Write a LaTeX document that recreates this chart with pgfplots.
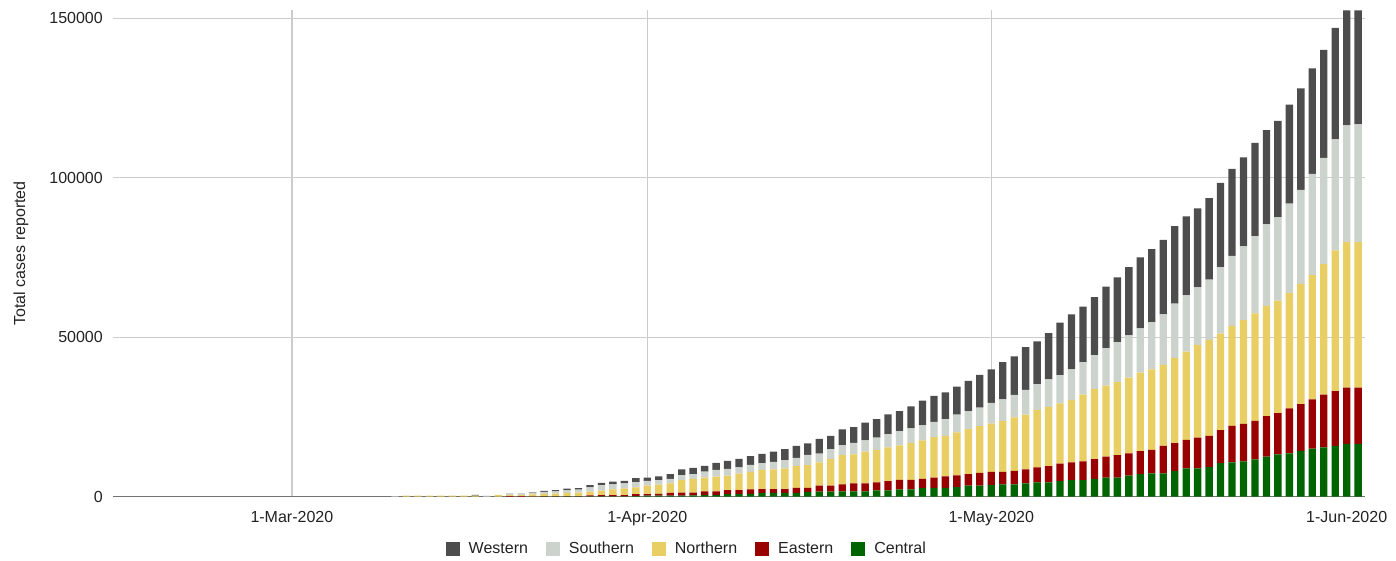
\documentclass[border=0pt]{standalone}
\usepackage{fontspec}
\setmainfont{Liberation Sans}
\usepackage{pgfplots}
\usepackage{pgfplotstable}
\pgfplotsset{compat=1.18}

\definecolor{western}{HTML}{4D4D4D}
\definecolor{southern}{HTML}{CCD3CC}
\definecolor{northern}{HTML}{E9CE63}
\definecolor{eastern}{HTML}{990000}
\definecolor{central}{HTML}{006400}
\definecolor{gridgrey}{HTML}{CCCCCC}
\definecolor{txt}{HTML}{222222}

\pgfplotsset{
  sq legend/.style={legend image code/.code={\fill[##1] (0pt,-7pt) rectangle (14pt,7pt);}},
}

% day = days since 1 Mar 2020, cumulative cases per region
\pgfplotstableread{
day central eastern northern southern western
9  0 0 0 200 0
10 0 0 300 0 0
11 0 0 300 0 0
12 0 0 300 0 0
13 0 0 300 0 0
14 0 0 300 0 0
15 0 0 300 0 0
16 0 0 300 0 300
17 0 0 0 300 0
18 0 0 600 0 0
19 0 200 300 600 0
20 0 200 300 600 0
21 50 50 600 600 100
22 100 50 750 600 300
23 100 50 850 700 400
24 100 50 1050 800 500
25 100 100 1100 900 500
26 100 300 1200 1300 700
27 100 400 1400 1700 700
28 100 400 1800 1600 800
29 100 400 2100 1600 800
30 200 600 2100 1700 1200
31 300 500 2700 1500 1000
32 300 600 2900 1400 1200
33 300 900 3000 1400 1500
34 300 1000 3900 1600 1800
35 400 900 4300 1500 1900
36 600 1100 4300 1900 1800
37 600 1100 4600 2100 2200
38 800 1300 4500 2100 2500
39 800 1300 5100 2000 2700
40 900 1400 5500 2200 2700
41 1200 1200 6000 2100 2900
42 1200 1200 6200 2300 3200
43 1200 1200 6500 2600 3400
44 1200 1600 6900 2500 3700
45 1500 1300 7100 3200 3600
46 1600 1900 7300 2700 4600
47 1600 1900 8300 3100 4200
48 1700 2200 9100 3200 4900
49 1700 2500 9100 3600 4900
50 1700 2500 9900 3600 5500
51 2000 2500 10200 3800 5800
52 2000 2900 10600 4100 6200
53 2300 3000 10800 4500 6200
54 2300 3000 11500 4600 6900
55 2700 2900 12100 4700 7700
56 2800 3200 12700 4800 8100
57 2800 3600 12700 5200 8400
58 3000 3700 13500 5500 8800
59 3500 3600 14100 5600 9500
60 3500 4000 14600 5800 10300
61 3700 4100 15100 6500 10500
62 3900 3900 16000 6700 11700
63 3900 4200 16800 7000 12100
64 4200 4400 17100 7800 13400
65 4500 4700 18000 8100 13400
66 4500 5100 18600 8600 14500
67 4900 5500 18900 8800 16500
68 5200 5600 19500 9600 17300
69 5200 5900 20900 10200 17400
70 5600 6200 22000 10600 18200
71 6000 6600 22200 11800 19300
72 6000 7000 22900 12600 20300
73 6600 7000 23700 13300 21400
74 7100 7200 24600 13900 22200
75 7300 7400 25200 14800 22900
76 7300 8600 25400 15900 23300
77 8100 8700 26700 17000 24300
78 8900 8900 27700 17600 24800
79 8900 9600 29000 18100 24800
80 9300 9800 30100 18900 25500
81 10500 10400 30200 20900 26400
82 10800 11400 31400 21900 27300
83 11100 11700 32600 23100 27900
84 11700 12100 33700 24200 29200
85 12600 12700 34500 25600 29500
86 13300 12900 35300 26100 30200
87 13600 14100 36100 28100 31000
88 14400 14600 37700 29500 31800
89 15100 15400 39000 31700 33100
90 15500 16500 40900 33300 33900
91 15900 17200 44100 34800 35000
92 16600 17600 45600 36600 36100
93 16600 17600 45600 36900 35800
}\cases

\begin{document}
\begin{tikzpicture}[font=\fontsize{16}{19}\selectfont]
\begin{axis}[
  at={(0,0)}, anchor=south west,
  scale only axis, width=1252pt, height=486.7pt,
  ybar stacked, bar width=0.64,
  enlargelimits=false,
  xmin=-15.6, xmax=93.6, ymin=0, ymax=152600,
  xtick={0,31,61,92},
  xticklabels={1-Mar-2020,1-Apr-2020,1-May-2020,1-Jun-2020},
  ytick={0,50000,100000,150000},
  yticklabels={0,50000,100000,150000},
  /pgf/number format/assume math mode=true,
  xmajorgrids, ymajorgrids,
  major grid style={draw=gridgrey, line width=1.3pt},
  axis x line*=bottom, axis y line*=left,
  y axis line style={draw=none},
  x axis line style={draw=black!55, line width=1.3pt},
  tick style={draw=none}, major tick length=0pt,
  ticklabel style={text=txt, font=\fontsize{16}{19}\selectfont},
  yticklabel style={anchor=east, inner sep=0pt, xshift=-10pt},
  xticklabel style={anchor=north, inner sep=0pt, yshift=-14.5pt},
  ylabel={Total cases reported},
  ylabel style={at={(axis description cs:-0.0735,0.5)}, anchor=center, text=txt},
  reverse legend,
  legend columns=5,
  legend style={at={(axis description cs:0.4575,-0.1075)}, anchor=center,
    draw=none, fill=none, text=txt, font=\fontsize{16}{19}\selectfont,
    nodes={inner xsep=0pt, inner ysep=0pt, text height=11.5pt, text depth=2.5pt},
    /tikz/every odd column/.append style={column sep=9pt},
    /tikz/every even column/.append style={column sep=18pt}},
]
\addplot[fill=central, draw=none, sq legend] table[x=day, y=central] {\cases};
\addplot[fill=eastern, draw=none, sq legend] table[x=day, y=eastern] {\cases};
\addplot[fill=northern, draw=none, sq legend] table[x=day, y=northern] {\cases};
\addplot[fill=southern, draw=none, sq legend] table[x=day, y=southern] {\cases};
\addplot[fill=western, draw=none, sq legend] table[x=day, y=western] {\cases};
\legend{Central, Eastern, Northern, Southern, Western}
\end{axis}
\pgfresetboundingbox
\useasboundingbox (-113pt,-63.3pt) rectangle (1283pt,496.7pt);
\end{tikzpicture}
\end{document}
